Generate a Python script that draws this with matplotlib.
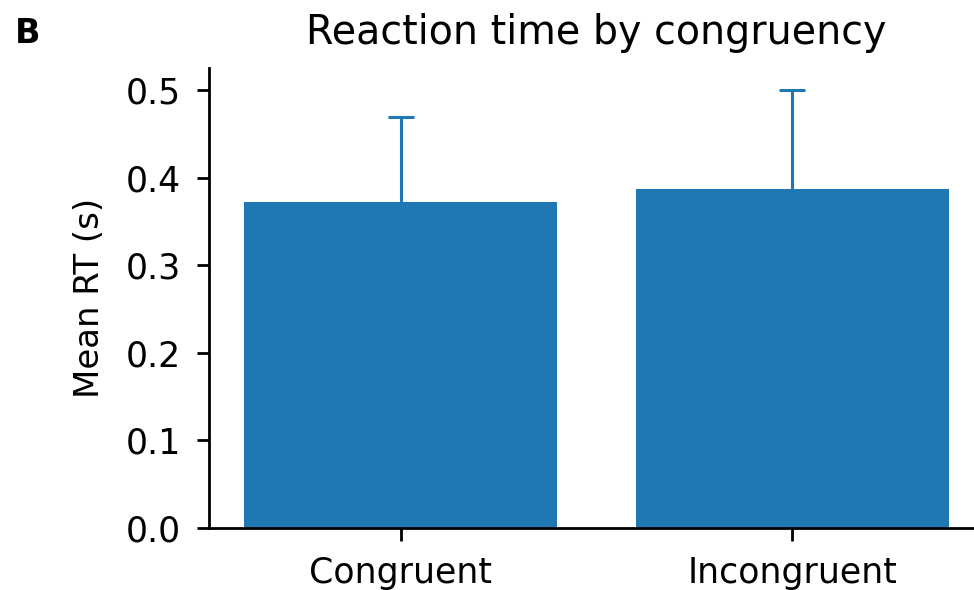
import matplotlib.pyplot as plt
import numpy as np

conditions = ["Congruent", "Incongruent"]
mean_rt = [0.372, 0.387]
err_up = [0.097, 0.113]

fig = plt.figure(figsize=(9.74, 5.9), dpi=100)
ax = fig.add_axes([208.7 / 974, 62 / 590, 775.3 / 974, 460 / 590])

x = np.arange(len(conditions))
bars = ax.bar(x, mean_rt, width=0.8, color="#1f77b4",
              yerr=[np.zeros(len(err_up)), err_up],
              error_kw=dict(ecolor="#1f77b4", elinewidth=2.2, capsize=9.5, capthick=2.2))
# only the upper cap is shown
bars.errorbar.lines[1][0].set_visible(False)

ax.set_xticks(x)
ax.set_xticklabels(conditions, fontsize=25)
ax.tick_params(axis="y", labelsize=25)
ax.tick_params(length=9, width=2, pad=11)
ax.set_ylabel("Mean RT (s)", fontsize=24.5, labelpad=14)
ax.set_title("Reaction time by congruency", fontsize=28.5, pad=17)
ax.spines["top"].set_visible(False)
ax.spines["right"].set_visible(False)
ax.spines["left"].set_linewidth(2)
ax.spines["bottom"].set_linewidth(2)

fig.text(15 / 974, 1 - 43 / 590, "B", fontsize=24, fontweight="bold")

fig.savefig("out.png", dpi=100)
